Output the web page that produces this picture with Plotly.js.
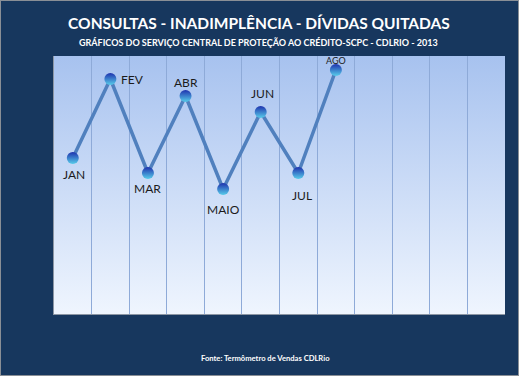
<!DOCTYPE html>
<html>
<head>
<meta charset="utf-8">
<script src="https://cdn.plot.ly/plotly-3.0.1.min.js"></script>
<style>
html,body{margin:0;padding:0;background:#ffffff;}
#chart{position:absolute;left:0;top:0;width:517px;height:374px;border:1px solid #8a8f96;}
</style>
</head>
<body>
<div id="chart"></div>
<script>
// Data
const months = ["JAN","FEV","MAR","ABR","MAIO","JUN","JUL","AGO","SET","OUT","NOV","DEZ"];
const dataMonths = ["JAN","FEV","MAR","ABR","MAIO","JUN","JUL","AGO"];
const values = [156, 235, 141, 218, 125, 202, 141, 244];
const labelYShift = [-16, 0, -15, 14, -20, 19, -22, 10];
const labelXShift = [1, 22, 0, 0, 0, 2, 4, 0];
const labelSize = [12, 12, 12, 12, 12, 12, 12, 9];

const titleText = "CONSULTAS - INADIMPLÊNCIA - DÍVIDAS QUITADAS";
const subtitleText = "GRÁFICOS DO SERVIÇO CENTRAL DE PROTEÇÃO AO CRÉDITO-SCPC - CDLRIO - 2013";
const sourceText = "Fonte: Termômetro de Vendas CDLRio";

const svg = '<svg xmlns="http://www.w3.org/2000/svg" width="100" height="100" preserveAspectRatio="none">' +
  '<defs><linearGradient id="g" x1="0" y1="0" x2="0" y2="1">' +
  '<stop offset="0" stop-color="#A7C2EF"/><stop offset="1" stop-color="#EFF5FE"/></linearGradient></defs>' +
  '<rect width="100" height="100" fill="url(#g)"/></svg>';
const bgSrc = 'data:image/svg+xml;base64,' + btoa(svg);

const trace = {
  x: dataMonths,
  y: values,
  type: 'scatter',
  mode: 'lines+markers',
  line: {color: '#5080BE', width: 3.5},
  marker: {
    size: 12,
    color: '#1E32AE',
    gradient: {type: 'vertical', color: '#58CDEA'},
    line: {width: 0}
  },
  hoverinfo: 'x+y',
  showlegend: false
};

const annotations = dataMonths.map((m, i) => ({
  x: m, y: values[i], xref: 'x', yref: 'y',
  text: m, showarrow: false,
  xshift: labelXShift[i], yshift: labelYShift[i],
  font: {family: 'Lato, "Open Sans", sans-serif', size: labelSize[i], color: '#1b1b1b'}
}));

annotations.push({
  text: '<b>' + subtitleText + '</b>', showarrow: false,
  xref: 'paper', yref: 'paper', x: 0.4545, y: 1.054,
  xanchor: 'center', yanchor: 'middle',
  font: {family: 'Lato, sans-serif', size: 9, color: '#ffffff'}
});
annotations.push({
  text: '<b>' + sourceText + '</b>', showarrow: false,
  xref: 'paper', yref: 'paper', x: 0.468, y: -0.1705,
  xanchor: 'center', yanchor: 'middle',
  font: {family: 'Lato, sans-serif', size: 7.6, color: '#ffffff'}
});

const layout = {
  width: 517, height: 374,
  margin: {l: 53, r: 13, t: 55, b: 61},
  paper_bgcolor: '#17375E',
  plot_bgcolor: 'rgba(0,0,0,0)',
  title: {
    text: '<b>' + titleText + '</b>',
    x: 0.499, xref: 'container', xanchor: 'center',
    y: 0.9385, yref: 'container', yanchor: 'middle',
    font: {family: 'Lato, sans-serif', size: 15.5, color: '#ffffff'}
  },
  xaxis: {
    type: 'category',
    categoryorder: 'array',
    categoryarray: months,
    range: [-0.5, 11.5],
    tickson: 'boundaries',
    showgrid: true,
    gridcolor: '#8EAAD8',
    gridwidth: 1,
    showticklabels: false,
    ticks: '',
    showline: true,
    linecolor: '#8C96A4',
    linewidth: 1,
    zeroline: false,
    fixedrange: true
  },
  yaxis: {
    range: [0, 258],
    showgrid: false,
    showticklabels: false,
    ticks: '',
    zeroline: false,
    showline: true,
    linecolor: '#8C96A4',
    linewidth: 1,
    fixedrange: true
  },
  images: [{
    source: bgSrc, xref: 'paper', yref: 'paper',
    x: 0, y: 1, sizex: 1, sizey: 1,
    xanchor: 'left', yanchor: 'top',
    sizing: 'stretch', layer: 'below'
  }],
  annotations: annotations
};

Plotly.newPlot('chart', [trace], layout, {displayModeBar: false, staticPlot: true});
</script>
</body>
</html>
